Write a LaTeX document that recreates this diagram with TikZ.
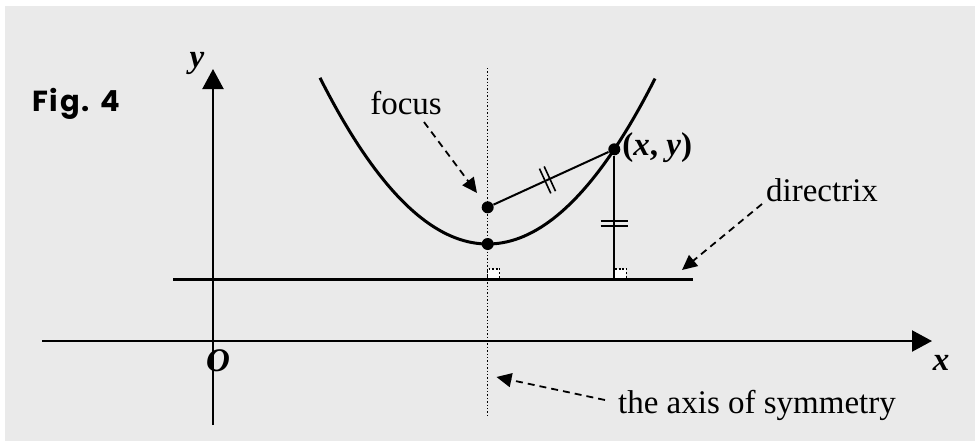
\documentclass[tikz,border=0pt]{standalone}
\usepackage{fontspec}
\setmainfont{Liberation Serif}
\newfontfamily\figfont{Poppins}[LetterSpace=6]
\usetikzlibrary{arrows.meta,decorations.markings}
\definecolor{pozadina}{HTML}{EAEAEA}
\tikzset{
  osa/.style={-{Triangle[length=10pt,width=10.5pt]},line width=1.1pt,black},
  kriva/.style={line width=1.5pt,black},
  duz/.style={line width=1pt,black},
  simetrija/.style={line width=0.6pt,black,dash pattern=on 0.7pt off 1pt},
  tacka/.style={circle,fill=black,inner sep=0pt,minimum size=6pt},
  ugao/.style={fill=white,draw=black,line width=0.6pt,dash pattern=on 0.9pt off 0.9pt},
  natpis/.style={inner sep=0pt,font=\fontsize{16.5}{19}\selectfont},
  strd/.style={-{Triangle[length=7.5pt,width=7pt]},line width=0.9pt,black,
               dash pattern=on 3.5pt off 2.5pt},
  crtice/.style={postaction={decorate},decoration={markings,mark=at position #1 with
                 {\draw[line width=0.8pt] (-1.3pt,-6.8pt) -- (-1.3pt,6.8pt)
                                          (1.3pt,-6.8pt) -- (1.3pt,6.8pt);}}},
}
\begin{document}
\begin{tikzpicture}[x=0.5pt,y=-0.5pt]

  % ---------- POZADINA ----------
  \useasboundingbox (0,0) rectangle (979,441);
  \fill[pozadina] (5,6) rectangle (975,441);

  \node[font={\figfont\bfseries\fontsize{14.5}{17}\selectfont},inner sep=0pt] (fig) at (76,104) {Fig. 4};

  % ---------- OSE ----------
  \coordinate (xpoc) at (42,341);
  \coordinate (xkraj) at (932,341);
  \coordinate (ypoc) at (213,425);
  \coordinate (ykraj) at (213,69);
  \draw[osa] (xpoc) -- (xkraj);
  \draw[osa] (ypoc) -- (ykraj);
  \node[natpis] (lx) at (941,363) {\textbf{\textit{x}}};
  \node[natpis] (ly) at (197,63) {\textbf{\textit{y}}};
  \node[natpis] (lo) at (218,361) {\textbf{\textit{O}}};

  % ---------- OSA SIMETRIJE I DIREKTRISA ----------
  \coordinate (sgore) at (487.7,68);
  \coordinate (sdole) at (487.7,415);
  \coordinate (Fs) at (487.7,279);
  \coordinate (Ps) at (614.3,279);
  \coordinate (dlevo) at (173,279);
  \coordinate (ddesno) at (693,279);
  \draw[ugao] (Fs) rectangle ++(12,-10);
  \draw[ugao] (Ps) rectangle ++(12,-10);
  \draw[simetrija] (sgore) -- (sdole);
  \draw[kriva] (dlevo) -- (ddesno);

  % ---------- PARABOLA ----------
  \draw[kriva] plot[domain=320:655,samples=80] (\x,{244-(0.07687*(\x-487.7))^2});

  \node[tacka] (F) at (487.7,207.3) {};
  \node[tacka] (V) at (487.7,244) {};
  \node[tacka] (P) at (614.3,149.3) {};
  \draw[duz,crtice=0.47] (F) -- (P);
  \draw[duz,crtice=0.55] (P) -- (Ps);
  \node[natpis,anchor=west] (lp) at (622,148) {\textbf{(\textit{x}, \textit{y})}};

  % ---------- NATPISI SA STRELICAMA ----------
  \node[natpis] (lfokus) at (406,103) {focus};
  \coordinate (f1) at (424,122);
  \coordinate (f2) at (477,193);
  \draw[strd] (f1) -- (f2);

  \node[natpis] (ldir) at (822,190) {directrix};
  \coordinate (d1) at (762,204);
  \coordinate (d2) at (682,270);
  \draw[strd] (d1) -- (d2);

  \node[natpis] (lsim) at (757,405) {the axis of symmetry};
  \coordinate (s1) at (605,400);
  \coordinate (s2) at (496.5,377);
  \draw[strd] (s1) -- (s2);

\end{tikzpicture}
\end{document}
